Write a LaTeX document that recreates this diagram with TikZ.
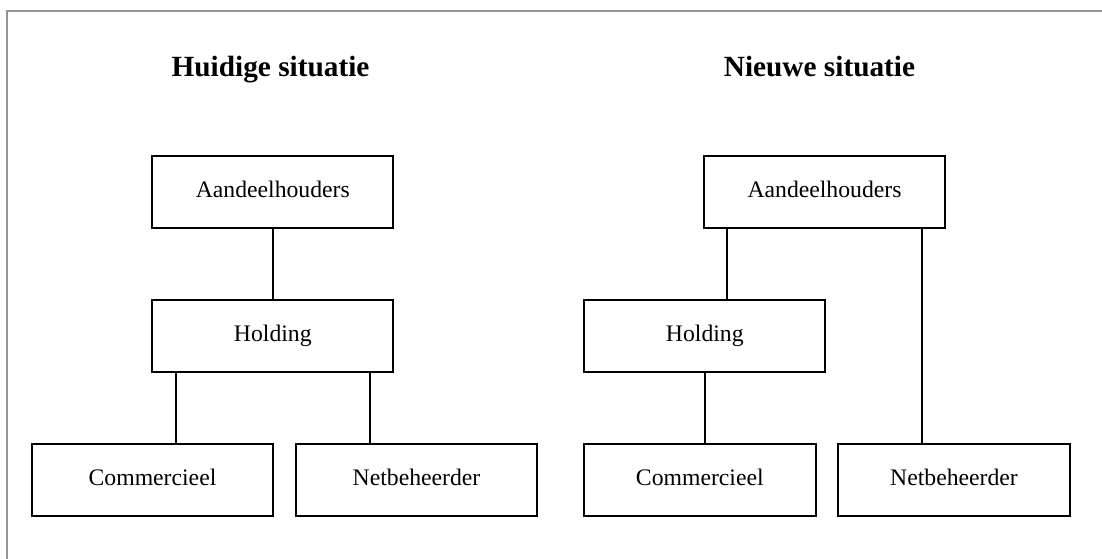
\documentclass[tikz,border=0pt]{standalone}
\usepackage{fontspec}
\setmainfont{Liberation Serif}
\usepackage{tikz}
\usetikzlibrary{positioning,calc}

\begin{document}
\begin{tikzpicture}[
  x=1pt, y=-1pt,
  entity/.style={draw, line width=1.8pt, minimum height=72pt, inner sep=0pt,
    text height=17.4pt, text depth=5.9pt, font=\fontsize{23.7}{28}\selectfont},
  wide/.style={entity, minimum width=241pt},
  narrow/.style={entity, minimum width=232pt},
  heading/.style={anchor=base, font=\fontsize{29.3}{34}\selectfont\bfseries},
  link/.style={line width=1.8pt}
]
  \useasboundingbox (0,0) rectangle (1102,559);

  % outer frame (open to the right and bottom)
  \coordinate (frameTL) at (7,11);
  \draw[line width=2pt, black!42] (frameTL -| 0,0) ++(1102,0) -- (frameTL) -- (frameTL |- 0,559);

  % Huidige situatie
  \node[heading] (titleL) at (270.5,77) {Huidige situatie};
  \node[wide] (aandL) at (272.8,192) {Aandeelhouders};
  \node[wide] (holdL) at (272.8,336) {Holding};
  \node[wide] (commL) at (152.5,480) {Commercieel};
  \node[wide] (netL) at (416.5,480) {Netbeheerder};

  \draw[link] (aandL.south) -- (holdL.north);
  \draw[link] ([xshift=24.5pt]holdL.south west) -- ([xshift=24.5pt]holdL.south west |- commL.north);
  \draw[link] ([xshift=-24pt]holdL.south east) -- ([xshift=-24pt]holdL.south east |- netL.north);

  % Nieuwe situatie
  \node[heading] (titleR) at (819.5,77) {Nieuwe situatie};
  \node[wide] (aandR) at (824.5,192) {Aandeelhouders};
  \node[wide] (holdR) at (704.8,336) {Holding};
  \node[narrow] (commR) at (699.8,480) {Commercieel};
  \node[narrow] (netR) at (954,480) {Netbeheerder};

  \draw[link] ([xshift=24pt]aandR.south west) -- ([xshift=24pt]aandR.south west |- holdR.north);
  \draw[link] ([xshift=-24pt]aandR.south east) -- ([xshift=-24pt]aandR.south east |- netR.north);
  \draw[link] (holdR.south) -- (holdR.south |- commR.north);
\end{tikzpicture}
\end{document}
